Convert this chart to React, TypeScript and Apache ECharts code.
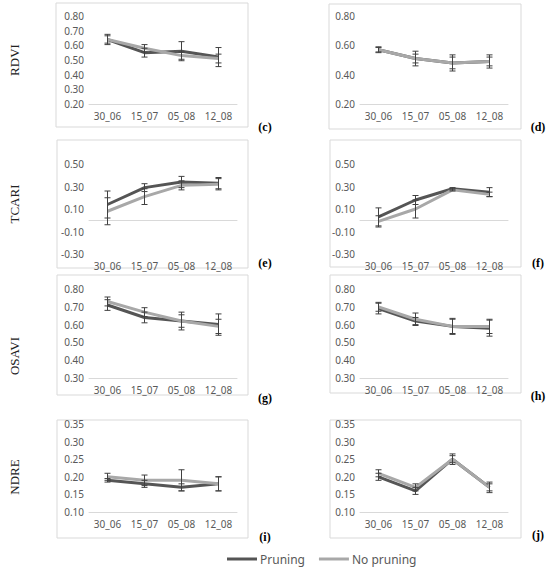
import React, { useEffect, useRef } from "react";
import * as echarts from "echarts";

// sampling dates shared by every panel
const dates = ["30_06", "15_07", "05_08", "12_08"];

// RDVI
const rdviPruningC = [0.64, 0.55, 0.56, 0.52];
const rdviPruningCSd = [0.035, 0.03, 0.065, 0.065];
const rdviNoPruningC = [0.64, 0.58, 0.53, 0.51];
const rdviNoPruningCSd = [0.025, 0.025, 0.025, 0.03];
const rdviPruningD = [0.57, 0.51, 0.48, 0.49];
const rdviPruningDSd = [0.02, 0.05, 0.055, 0.045];
const rdviNoPruningD = [0.57, 0.51, 0.48, 0.49];
const rdviNoPruningDSd = [0.015, 0.03, 0.04, 0.03];

// TCARI
const tcariPruningE = [0.14, 0.29, 0.34, 0.33];
const tcariPruningESd = [0.12, 0.035, 0.05, 0.05];
const tcariNoPruningE = [0.08, 0.21, 0.31, 0.32];
const tcariNoPruningESd = [0.12, 0.07, 0.04, 0.05];
const tcariPruningF = [0.03, 0.18, 0.28, 0.25];
const tcariPruningFSd = [0.08, 0.04, 0.01, 0.04];
const tcariNoPruningF = [-0.01, 0.1, 0.27, 0.23];
const tcariNoPruningFSd = [0.05, 0.08, 0.01, 0.02];

// OSAVI
const osaviPruningG = [0.71, 0.64, 0.62, 0.6];
const osaviPruningGSd = [0.03, 0.03, 0.05, 0.06];
const osaviNoPruningG = [0.73, 0.67, 0.62, 0.59];
const osaviNoPruningGSd = [0.025, 0.025, 0.035, 0.04];
const osaviPruningH = [0.69, 0.62, 0.59, 0.58];
const osaviPruningHSd = [0.03, 0.02, 0.045, 0.045];
const osaviNoPruningH = [0.7, 0.63, 0.59, 0.59];
const osaviNoPruningHSd = [0.025, 0.035, 0.04, 0.04];

// NDRE
const ndrePruningI = [0.19, 0.18, 0.17, 0.18];
const ndrePruningISd = [0.005, 0.01, 0.01, 0.02];
const ndreNoPruningI = [0.2, 0.19, 0.19, 0.18];
const ndreNoPruningISd = [0.01, 0.015, 0.03, 0.02];
const ndrePruningJ = [0.2, 0.16, 0.25, 0.17];
const ndrePruningJSd = [0.01, 0.01, 0.01, 0.01];
const ndreNoPruningJ = [0.21, 0.17, 0.25, 0.17];
const ndreNoPruningJSd = [0.01, 0.01, 0.015, 0.015];

const rowLabels = ["RDVI", "TCARI", "OSAVI", "NDRE"];
const panelLetters = ["(c)", "(d)", "(e)", "(f)", "(g)", "(h)", "(i)", "(j)"];

const DARK = "#555555";
const LIGHT = "#a8a8a8";
const ERR = "#404040";
const FONT = "'Noto Sans', sans-serif";

// panel layout: [pruning, pruningSd, noPruning, noPruningSd, min, max, interval]
const panels: any[] = [
  [rdviPruningC, rdviPruningCSd, rdviNoPruningC, rdviNoPruningCSd, 0.2, 0.8, 0.1],
  [rdviPruningD, rdviPruningDSd, rdviNoPruningD, rdviNoPruningDSd, 0.2, 0.8, 0.2],
  [tcariPruningE, tcariPruningESd, tcariNoPruningE, tcariNoPruningESd, -0.3, 0.5, 0.2],
  [tcariPruningF, tcariPruningFSd, tcariNoPruningF, tcariNoPruningFSd, -0.3, 0.5, 0.2],
  [osaviPruningG, osaviPruningGSd, osaviNoPruningG, osaviNoPruningGSd, 0.3, 0.8, 0.1],
  [osaviPruningH, osaviPruningHSd, osaviNoPruningH, osaviNoPruningHSd, 0.3, 0.8, 0.1],
  [ndrePruningI, ndrePruningISd, ndreNoPruningI, ndreNoPruningISd, 0.1, 0.35, 0.05],
  [ndrePruningJ, ndrePruningJSd, ndreNoPruningJ, ndreNoPruningJSd, 0.1, 0.35, 0.05],
];

const rowTops = [16, 164, 289, 424];
const rowHeights = [88, 90, 89, 88];
const colLefts = [89, 360];
const boxes = [
  [56, 3, 192, 124], [329, 4, 192, 125],
  [57, 140, 191, 128], [330, 140, 191, 127],
  [57, 275, 191, 120], [330, 275, 191, 118],
  [57, 420, 191, 118], [330, 420, 191, 118],
];
const letterPos = [
  [265, 127], [538, 127], [265, 263], [538, 263],
  [265, 398], [538, 396], [265, 537], [538, 535],
];
const rowLabelY = [60, 204, 356, 477];

const errorRender = (params: any, api: any) => {
  const x = api.value(0);
  const top = api.coord([x, api.value(2)]);
  const bot = api.coord([x, api.value(1)]);
  const w = 3;
  const style = { stroke: ERR, lineWidth: 1 };
  return {
    type: "group",
    children: [
      { type: "line", shape: { x1: top[0], y1: top[1], x2: bot[0], y2: bot[1] }, style },
      { type: "line", shape: { x1: top[0] - w, y1: top[1], x2: top[0] + w, y2: top[1] }, style },
      { type: "line", shape: { x1: bot[0] - w, y1: bot[1], x2: bot[0] + w, y2: bot[1] }, style },
    ],
  };
};

const errData = (vals: number[], sd: number[]) =>
  vals.map((v, i) => [i, v - sd[i], v + sd[i]]);

const buildOption = () => {
  const grid: any[] = [];
  const xAxis: any[] = [];
  const yAxis: any[] = [];
  const series: any[] = [];

  panels.forEach((p, i) => {
    const [pr, prSd, np, npSd, min, max, interval] = p;
    const row = Math.floor(i / 2);
    const col = i % 2;
    grid.push({
      left: colLefts[col],
      width: 148,
      top: rowTops[row],
      height: rowHeights[row],
    });
    xAxis.push({
      type: "category",
      gridIndex: i,
      data: dates,
      axisLine: { show: true, onZero: true, lineStyle: { color: "#d9d9d9", width: 1 } },
      axisTick: { show: false },
      axisLabel: { color: "#595959", fontSize: 10, fontFamily: FONT, margin: 7 },
    });
    yAxis.push({
      type: "value",
      gridIndex: i,
      min,
      max,
      interval,
      splitLine: { show: false },
      axisLine: { show: false },
      axisTick: { show: false },
      axisLabel: {
        color: "#595959",
        fontSize: 10,
        fontFamily: FONT,
        margin: 5,
        formatter: (v: number) => v.toFixed(2),
      },
    });
    series.push({
      name: "Pruning",
      type: "line",
      xAxisIndex: i,
      yAxisIndex: i,
      data: pr,
      symbol: "none",
      lineStyle: { color: DARK, width: 3 },
      itemStyle: { color: DARK },
      z: 2,
    });
    series.push({
      name: "No pruning",
      type: "line",
      xAxisIndex: i,
      yAxisIndex: i,
      data: np,
      symbol: "none",
      lineStyle: { color: LIGHT, width: 3 },
      itemStyle: { color: LIGHT },
      z: 3,
    });
    series.push({
      name: "errPruning" + i,
      type: "custom",
      xAxisIndex: i,
      yAxisIndex: i,
      data: errData(pr, prSd),
      encode: { x: 0, y: [1, 2] },
      renderItem: errorRender,
      z: 4,
    });
    series.push({
      name: "errNoPruning" + i,
      type: "custom",
      xAxisIndex: i,
      yAxisIndex: i,
      data: errData(np, npSd),
      encode: { x: 0, y: [1, 2] },
      renderItem: errorRender,
      z: 4,
    });
  });

  const graphic: any[] = [];
  boxes.forEach(([x, y, w, h]) => {
    graphic.push({
      type: "rect",
      shape: { x, y, width: w, height: h },
      style: { fill: "none", stroke: "#d9d9d9", lineWidth: 1 },
      silent: true,
    });
  });
  letterPos.forEach(([x, y], i) => {
    graphic.push({
      type: "text",
      x,
      y,
      style: {
        text: panelLetters[i],
        fill: "#000",
        font: "bold 12px 'Liberation Serif', serif",
        align: "center",
        verticalAlign: "middle",
      },
    });
  });
  rowLabelY.forEach((y, i) => {
    graphic.push({
      type: "text",
      x: 14,
      y,
      rotation: Math.PI / 2,
      style: {
        text: rowLabels[i],
        fill: "#222",
        font: "13px 'Liberation Serif', serif",
        align: "center",
        verticalAlign: "middle",
      },
    });
  });

  return {
    animation: false,
    backgroundColor: "#ffffff",
    grid,
    xAxis,
    yAxis,
    series,
    graphic,
    legend: {
      data: [
        { name: "Pruning", icon: "rect" },
        { name: "No pruning", icon: "rect" },
      ],
      left: 227,
      top: 553,
      itemWidth: 30,
      itemHeight: 3,
      itemGap: 14,
      padding: 0,
      textStyle: { color: "#595959", fontSize: 12, fontFamily: FONT, padding: [0, 0, 0, -2] },
    },
  };
};

const App = () => {
  const chartRef = useRef<HTMLDivElement>(null);

  useEffect(() => {
    if (!chartRef.current) return;
    const chart = echarts.init(chartRef.current, undefined, { renderer: "svg" });
    chart.setOption(buildOption());
    return () => {
      chart.dispose();
    };
  }, []);

  return (
    <div
      ref={chartRef}
      style={{ position: "fixed", left: 0, top: 0, width: 550, height: 569 }}
    />
  );
};

export default App;
